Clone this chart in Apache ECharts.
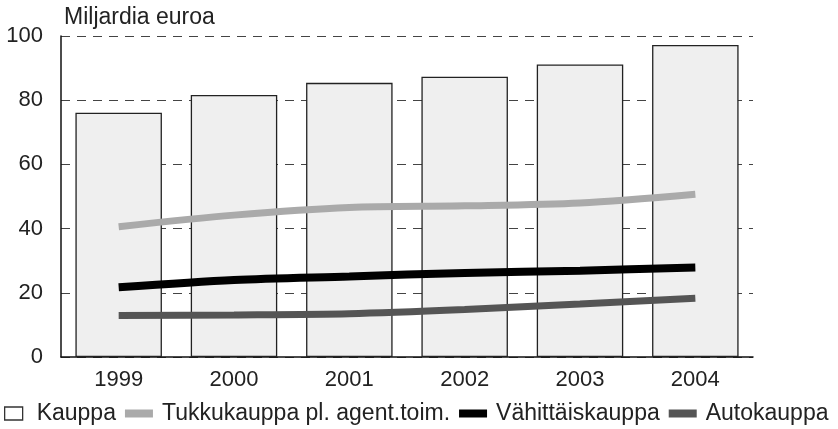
<!DOCTYPE html>
<html>
<head>
<meta charset="utf-8">
<script src="https://cdn.jsdelivr.net/npm/echarts@6/dist/echarts.min.js"></script>
<style>
  html, body { margin: 0; padding: 0; background: #fff; }
  #chart { width: 838px; height: 429px; }
</style>
</head>
<body>
<div id="chart"></div>
<script>
const years = ['1999', '2000', '2001', '2002', '2003', '2004']
const kauppa = [76.1, 81.6, 85.4, 87.3, 91.1, 97.2]
const tukkukauppa = [40.6, 44.2, 46.6, 47.1, 48.0, 50.7]
const vahittaiskauppa = [21.7, 24.0, 25.1, 26.2, 26.9, 27.9]
const autokauppa = [12.9, 13.1, 13.5, 14.8, 16.5, 18.3]
const yTicks = [0, 20, 40, 60, 80, 100]

const font = 'Liberation Sans, Arial, sans-serif'
const chart = echarts.init(document.getElementById('chart'))

const boxIcon = 'path://M0,0h18v13h-18z'
const barIcon = 'path://M0,0h28v8h-28z'

const lineSeries = (name, data, color, width) => ({
  name,
  type: 'line',
  data,
  smooth: 0.3,
  symbol: 'none',
  lineStyle: { color, width, cap: 'butt' },
  itemStyle: { color },
  z: 3
})

chart.setOption({
  animation: false,
  textStyle: { fontFamily: font },
  title: {
    text: 'Miljardia euroa',
    left: 59,
    top: 1,
    textStyle: { fontFamily: font, fontSize: 23, fontWeight: 'normal', color: '#222' }
  },
  grid: { left: 61, right: 85, top: 36, bottom: 72 },
  legend: {
    bottom: 4,
    left: 4,
    width: 834,
    padding: 0,
    itemGap: 9,
    itemWidth: 28,
    itemHeight: 13,
    symbolKeepAspect: true,
    textStyle: { fontFamily: font, fontSize: 23, color: '#222', padding: [0, 0, 0, 4] },
    data: [
      { name: 'Kauppa', icon: boxIcon, itemStyle: { color: '#fff', borderColor: '#333', borderWidth: 1.3 } },
      { name: 'Tukkukauppa pl. agent.toim.', icon: barIcon, itemStyle: { color: '#aaa', borderWidth: 0 } },
      { name: 'Vähittäiskauppa', icon: barIcon, itemStyle: { color: '#000', borderWidth: 0 } },
      { name: 'Autokauppa', icon: barIcon, itemStyle: { color: '#555', borderWidth: 0 } }
    ]
  },
  xAxis: {
    type: 'category',
    data: years,
    axisLine: { lineStyle: { color: '#111', width: 1.5 } },
    axisTick: { show: false },
    axisLabel: { fontFamily: font, fontSize: 22, color: '#222', margin: 12 }
  },
  yAxis: {
    type: 'value',
    min: yTicks[0],
    max: yTicks[yTicks.length - 1],
    interval: 20,
    axisLine: { show: true, lineStyle: { color: '#111', width: 1.5 } },
    axisTick: { show: false },
    axisLabel: { fontFamily: font, fontSize: 22, color: '#222', margin: 18 },
    splitLine: { lineStyle: { color: '#444', type: [9, 7], width: 1 } }
  },
  series: [
    {
      name: 'Kauppa',
      type: 'bar',
      data: kauppa,
      barCategoryGap: '25%',
      itemStyle: { color: '#efefef', borderColor: '#222', borderWidth: 1.3 },
      z: 2
    },
    lineSeries('Tukkukauppa pl. agent.toim.', tukkukauppa, '#aaa', 7),
    lineSeries('Vähittäiskauppa', vahittaiskauppa, '#000', 8),
    lineSeries('Autokauppa', autokauppa, '#555', 7)
  ]
})

window.addEventListener('resize', () => chart.resize())
</script>
</body>
</html>
